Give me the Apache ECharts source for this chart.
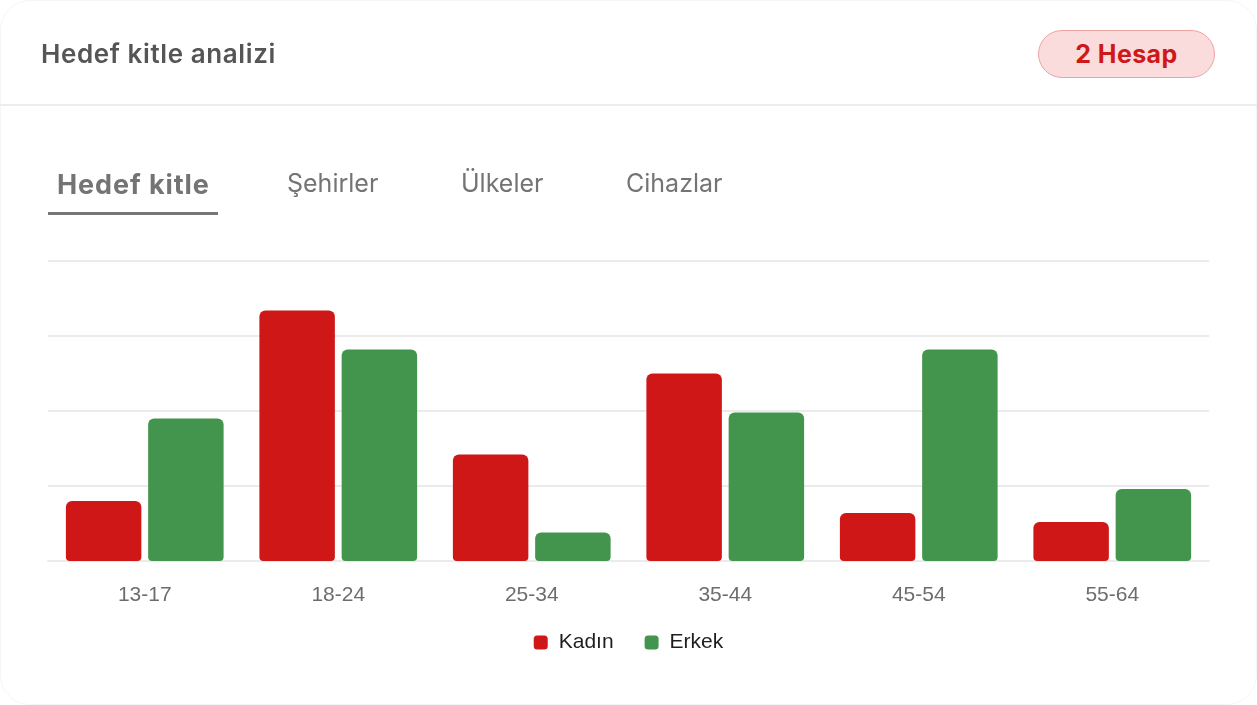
<!DOCTYPE html>
<html>
<head>
<meta charset="utf-8">
<script src="https://cdn.jsdelivr.net/npm/echarts@6/dist/echarts.min.js"></script>
<style>
  html, body { margin:0; padding:0; background:#ffffff; }
  #wrap { position:relative; width:1257px; height:705px; overflow:hidden; }
  #card { position:absolute; left:0; top:0; width:1255px; height:703px; border:1px solid #f5f5f5; border-radius:30px; background:#fff; }
  #chart { position:absolute; left:0; top:0; width:1257px; height:705px; }
  .txt { position:absolute; font-family: Inter, "Noto Sans", sans-serif; white-space:nowrap; z-index:2; }
  #title { left:41px; top:38px; font-size:26px; font-weight:600; color:#555555; letter-spacing:0.6px; }
  #badge { position:absolute; left:1038px; top:30px; width:175px; height:46px; border:1px solid #eea3a3; background:#fadcdd; border-radius:24px; z-index:2;
           font-family: Inter, "Noto Sans", sans-serif; font-size:25px; font-weight:700; color:#d01818; text-align:center; line-height:46px; letter-spacing:0.4px; }
  #divider { position:absolute; left:0; top:104px; width:1257px; height:2px; background:#ededed; z-index:2; }
  .tab { top:168px; font-size:25px; color:#747474; }
  #tab1 { left:57px; font-size:27px; font-weight:700; top:168px; letter-spacing:0.9px; }
  #tab2 { left:287px; }
  #tab3 { left:461px; }
  #tab4 { left:626px; }
  #underline { position:absolute; left:48px; top:212px; width:170px; height:3px; background:#777777; z-index:2; }
</style>
</head>
<body>
<div id="wrap">
  <div id="card"></div>
  <div id="chart"></div>
  <div id="title" class="txt">Hedef kitle analizi</div>
  <div id="badge">2 Hesap</div>
  <div id="divider"></div>
  <div id="tab1" class="txt tab">Hedef kitle</div>
  <div id="tab2" class="txt tab">Şehirler</div>
  <div id="tab3" class="txt tab">Ülkeler</div>
  <div id="tab4" class="txt tab">Cihazlar</div>
  <div id="underline"></div>
</div>
<script>
const categories = ["13-17", "18-24", "25-34", "35-44", "45-54", "55-64"];
const seriesNames = ["Kadın", "Erkek"];
const kadin = [4.0, 16.7, 7.1, 12.5, 3.2, 2.6];
const erkek = [9.5, 14.1, 1.9, 9.9, 14.1, 4.8];
const colors = ["#cf1717", "#43954d"];

const chart = echarts.init(document.getElementById('chart'), null, { renderer: 'canvas' });
chart.setOption({
  animation: false,
  color: colors,
  grid: { left: 48, right: 48, top: 261, height: 300 },
  legend: {
    data: seriesNames,
    top: 627,
    left: 'center',
    icon: 'roundRect',
    itemWidth: 14,
    itemHeight: 14,
    itemGap: 31,
    textStyle: { fontSize: 21, color: '#1e1e1e', fontFamily: '"Liberation Sans", Arial, sans-serif', padding: [0, 0, 0, 6] }
  },
  xAxis: {
    type: 'category',
    data: categories,
    axisLine: { show: true, lineStyle: { color: '#ebebeb', width: 2 } },
    axisTick: { show: false },
    axisLabel: { margin: 24, fontSize: 21, color: '#6d6d6d', fontFamily: '"Liberation Sans", Arial, sans-serif' }
  },
  yAxis: {
    type: 'value',
    min: 0, max: 20, interval: 5,
    axisLabel: { show: false },
    axisLine: { show: false },
    axisTick: { show: false },
    splitLine: { lineStyle: { color: '#ebebeb', width: 2 } }
  },
  series: [
    { name: seriesNames[0], type: 'bar', data: kadin, barWidth: '39%', barGap: '9%',
      itemStyle: { borderRadius: [6, 6, 4, 4] } },
    { name: seriesNames[1], type: 'bar', data: erkek, barWidth: '39%', barGap: '9%',
      itemStyle: { borderRadius: [6, 6, 4, 4] } }
  ]
});
</script>
</body>
</html>
